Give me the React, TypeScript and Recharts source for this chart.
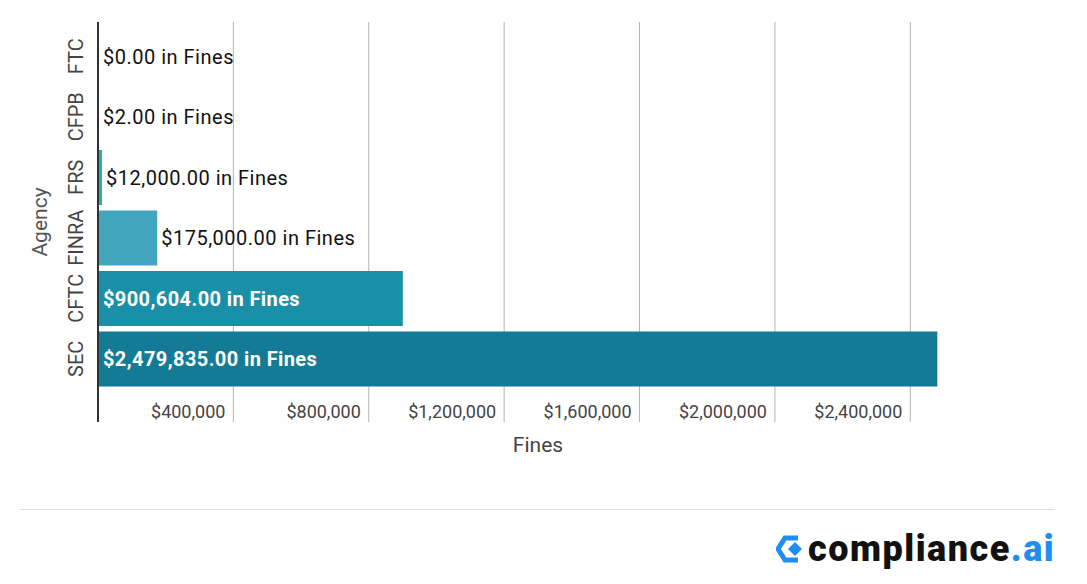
import { Bar, BarChart, CartesianGrid, Cell, Label, LabelList, XAxis, YAxis } from "recharts";

const agencies = ["FTC", "CFPB", "FRS", "FINRA", "CFTC", "SEC"];
const fines = [0, 2, 12000, 175000, 900604, 2479835];
const barColors = ["#2bb0aa", "#2bb0aa", "#2aaea9", "#42a7be", "#1a90a8", "#137b95"];
const fineTicks = [400000, 800000, 1200000, 1600000, 2000000, 2400000];
const fineMax = 2600000;

const chartData = agencies.map((agency, i) => ({ agency, fines: fines[i] }));

const money = (v: number) =>
  "$" + v.toLocaleString("en-US", { minimumFractionDigits: 2, maximumFractionDigits: 2 });

function FineLabel(props: any) {
  const { x, y, width, height, value } = props;
  const inside = value > 500000;
  return (
    <text
      x={inside ? x + 5 : x + Math.max(width, 0) + 4}
      y={y + height / 2}
      dominantBaseline="central"
      fill={inside ? "#ffffff" : "#111111"}
      fontSize={20}
      fontWeight={inside ? 700 : 400}
      letterSpacing={inside ? 0.4 : 0.5}
      fontFamily="Roboto"
    >
      {money(value)} in Fines
    </text>
  );
}

function AgencyTick(props: any) {
  const { y, payload } = props;
  return (
    <text
      x={83}
      y={y}
      transform={`rotate(-90, 83, ${y})`}
      textAnchor="middle"
      fontSize={20}
      fill="#444"
      fontFamily="Roboto"
    >
      {payload.value}
    </text>
  );
}

function FineTick(props: any) {
  const { x, payload } = props;
  return (
    <text x={x - 8} y={418} textAnchor="end" fontSize={18} fill="#444" fontFamily="Roboto">
      {"$" + payload.value.toLocaleString("en-US")}
    </text>
  );
}

function Logo() {
  return (
    <div style={{ position: "absolute", left: 776, top: 528, display: "flex", alignItems: "center" }}>
      <svg width={30} height={30} viewBox="0 0 30 30">
        <path
          d="M22 4 L9 4 L2 15 L9 26 L22 26"
          fill="none"
          stroke="#1f8ef1"
          strokeWidth={5}
          strokeLinejoin="miter"
        />
        <path d="M19 8 L26 15 L19 22 L12 15 Z" fill="#1f8ef1" />
      </svg>
      <span
        style={{
          fontFamily: "Roboto",
          fontWeight: 900,
          fontSize: 36,
          letterSpacing: 1.5,
          color: "#111",
          marginLeft: 2,
        }}
      >
        compliance<span style={{ color: "#1f8ef1" }}>.ai</span>
      </span>
    </div>
  );
}

export default function App() {
  return (
    <div
      style={{
        position: "absolute",
        left: 0,
        top: 0,
        width: 1087,
        height: 584,
        background: "#fff",
        fontFamily: "Roboto",
      }}
    >
      <BarChart
        width={1087}
        height={480}
        data={chartData}
        layout="vertical"
        margin={{ top: 22, right: 109, left: 28, bottom: 18 }}
        barCategoryGap={3}
      >
        <CartesianGrid
          horizontal={false}
          stroke="#b3b3b3"
          verticalCoordinatesGenerator={({ offset }: any) =>
            fineTicks.map((t) => offset.left + (offset.width * t) / fineMax)
          }
        />
        <XAxis
          type="number"
          domain={[0, fineMax]}
          ticks={fineTicks}
          interval={0}
          axisLine={false}
          tickLine={false}
          height={40}
          tick={FineTick}
        >
          <Label value="Fines" position="center" dy={3} fill="#444" fontSize={21} />
        </XAxis>
        <YAxis
          type="category"
          dataKey="agency"
          width={70}
          axisLine={{ stroke: "#333", strokeWidth: 2 }}
          tickLine={false}
          padding={{ top: 4, bottom: 33 }}
          tick={AgencyTick}
          interval={0}
        >
          <Label
            content={() => (
              <text
                x={47}
                y={222}
                transform="rotate(-90, 47, 222)"
                textAnchor="middle"
                fontSize={21}
                fill="#555"
                fontFamily="Roboto"
              >
                Agency
              </text>
            )}
          />
        </YAxis>
        <Bar dataKey="fines" minPointSize={1} isAnimationActive={false}>
          {chartData.map((d, i) => (
            <Cell key={d.agency} fill={barColors[i]} />
          ))}
          <LabelList dataKey="fines" content={FineLabel} />
        </Bar>
      </BarChart>
      <div style={{ position: "absolute", left: 20, top: 509, width: 1035, height: 1, background: "#dddddd" }} />
      <Logo />
    </div>
  );
}
